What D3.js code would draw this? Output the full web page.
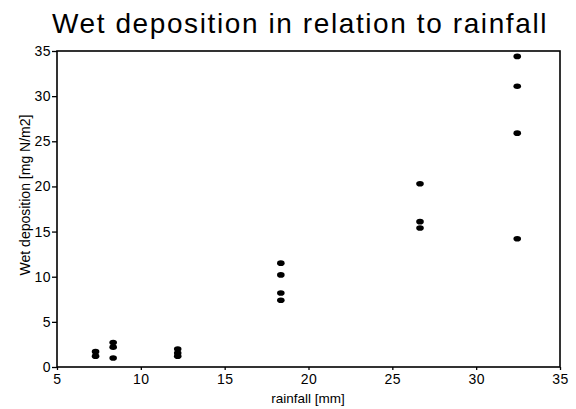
<!DOCTYPE html>
<html>
<head>
<meta charset="utf-8">
<script src="https://cdn.jsdelivr.net/npm/d3@7"></script>
<style>
  body { margin: 0; background: #fff; }
  svg text { font-family: "Liberation Sans", Arial, sans-serif; fill: #000; }
</style>
</head>
<body>
<div id="chart"></div>
<script>
// rainfall (mm) and wet deposition (mg N/m2)
var rainfall   = [7.3, 7.3, 8.35, 8.35, 8.35, 12.2, 12.2, 12.2, 18.35, 18.35, 18.35, 18.35, 26.65, 26.65, 26.65, 32.45, 32.45, 32.45, 32.45];
var deposition = [1.7, 1.2, 2.7, 2.2, 1.0, 2.0, 1.55, 1.2, 11.5, 10.2, 8.2, 7.4, 20.3, 16.1, 15.4, 34.4, 31.1, 25.9, 14.2];
var xTicks = [5, 10, 15, 20, 25, 30, 35];
var yTicks = [0, 5, 10, 15, 20, 25, 30, 35];

var w = 576, h = 409;
var plotLeft = 57, plotRight = 560, plotTop = 51, plotBottom = 367;

var svg = d3.select("#chart")
            .append("svg")
            .attr("width", w)
            .attr("height", h);

var xScale = d3.scaleLinear().domain([5, 35]).range([plotLeft, plotRight]);
var yScale = d3.scaleLinear().domain([0, 35]).range([plotBottom, plotTop]);

// title
svg.append("text")
    .attr("x", 300)
    .attr("y", 33)
    .attr("text-anchor", "middle")
    .style("font-size", "28px")
    .style("letter-spacing", "1.6px")
    .text("Wet deposition in relation to rainfall");

// frame
svg.append("rect")
    .attr("x", plotLeft)
    .attr("y", plotTop)
    .attr("width", plotRight - plotLeft)
    .attr("height", plotBottom - plotTop)
    .style("fill", "none")
    .style("stroke", "#000")
    .style("stroke-width", 1.6);

//Define axes
var xAxis = d3.axisBottom(xScale).tickValues(xTicks).tickSize(3).tickPadding(4);
var yAxis = d3.axisLeft(yScale).tickValues(yTicks).tickSize(5).tickPadding(1);

var gx = svg.append("g")
    .attr("transform", "translate(0," + plotBottom + ")")
    .call(xAxis);
var gy = svg.append("g")
    .attr("transform", "translate(" + plotLeft + ",0)")
    .call(yAxis);

[gx, gy].forEach(function(g) {
    g.select(".domain").remove();
    g.selectAll("line").style("stroke", "#000").style("stroke-width", 1.3);
    g.selectAll("text")
        .style("font-family", "'Liberation Sans', Arial, sans-serif")
        .style("font-size", "14px")
        .style("letter-spacing", "0.5px")
        .style("fill", "#000");
});

// axis labels
svg.append("text")
    .attr("x", 308)
    .attr("y", 403)
    .attr("text-anchor", "middle")
    .style("font-size", "13.5px")
    .text("rainfall [mm]");

svg.append("text")
    .attr("transform", "translate(30,195) rotate(-90)")
    .attr("text-anchor", "middle")
    .style("font-size", "14px")
    .text("Wet deposition [mg N/m2]");

// points
svg.append("g")
    .selectAll("ellipse")
    .data(rainfall)
    .enter()
    .append("ellipse")
        .attr("cx", function(d) { return xScale(d); })
        .attr("cy", function(d, i) { return yScale(deposition[i]); })
        .attr("rx", 3.8)
        .attr("ry", 2.8)
        .style("fill", "#000");
</script>
</body>
</html>
